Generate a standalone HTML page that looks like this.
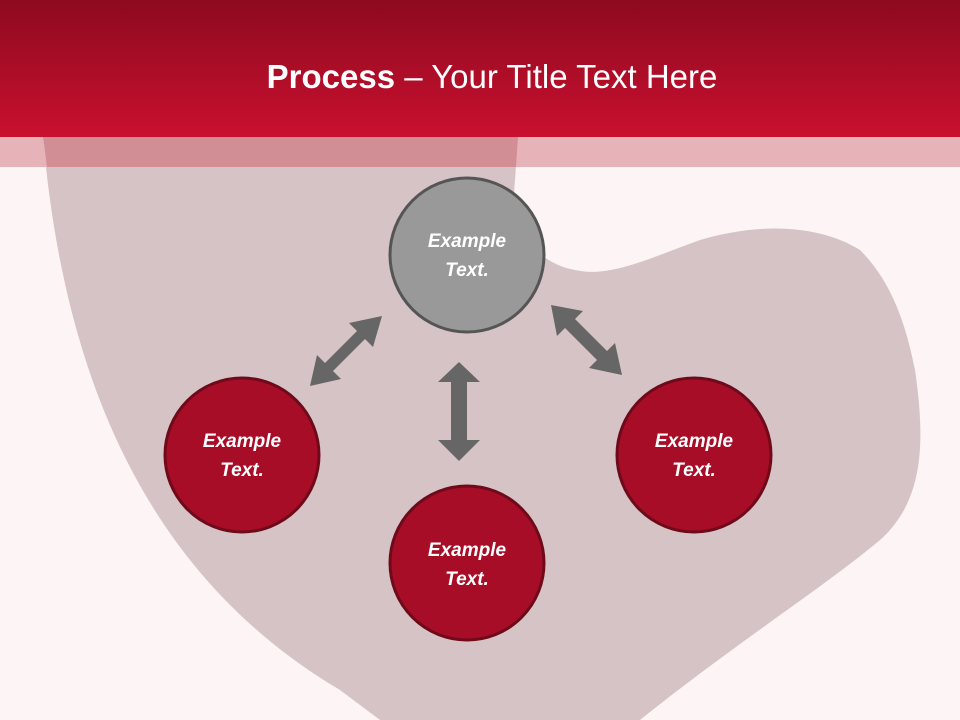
<!DOCTYPE html>
<html><head><meta charset="utf-8"><style>
body{margin:0;width:960px;height:720px;overflow:hidden;background:#fcf4f5}
svg{display:block}
text{font-family:"Liberation Sans",sans-serif}
</style></head><body>
<svg width="960" height="720" viewBox="0 0 960 720" xmlns="http://www.w3.org/2000/svg">
<defs>
<linearGradient id="hg" x1="0" y1="0" x2="0" y2="1">
<stop offset="0" stop-color="#8d0a1f"/><stop offset="1" stop-color="#c9102f"/>
</linearGradient>
</defs>
<rect width="960" height="720" fill="#fcf4f5"/>
<path d="M43,137 C60,330 120,560 340,690 L380,720 L640,720 C740,640 820,590 880,540 C925,500 925,440 915,370 C905,320 890,280 860,250 C820,225 760,222 700,240 C650,258 610,278 575,270 C530,262 510,220 515,180 L518,137 Z" fill="#d6c3c6"/>
<rect x="0" y="137" width="960" height="30" fill="#e6b4b8"/>
<path d="M43,137 C45,150 46,160 47,167 L516,167 L518,137 Z" fill="#d18f95"/>
<rect x="0" y="0" width="960" height="137" fill="url(#hg)"/>
<text x="492" y="88" text-anchor="middle" font-size="33" fill="#fff"><tspan font-weight="bold">Process</tspan> – Your Title Text Here</text>
<g fill="#666">
<polygon points="382,316 349,323 357,331 325,363 317,355 310,386 341,379 333,371 365,339 373,347"/>
<polygon points="551,305 557,336 565,328 597,360 589,368 622,375 615,343 607,351 575,319 583,311"/>
<polygon points="459,362 438,382 451,382 451,440 438,440 459,461 480,440 467,440 467,382 480,382"/>
</g>
<g stroke-width="3">
<circle cx="467" cy="255" r="77" fill="#999" stroke="#555"/>
<circle cx="242" cy="455" r="77" fill="#a80d27" stroke="#6f0a1a"/>
<circle cx="694" cy="455" r="77" fill="#a80d27" stroke="#6f0a1a"/>
<circle cx="467" cy="563" r="77" fill="#a80d27" stroke="#6f0a1a"/>
</g>
<g font-size="19" font-style="italic" font-weight="bold" fill="#fff" text-anchor="middle">
<text x="467" y="247">Example</text><text x="467" y="276">Text.</text>
<text x="242" y="447">Example</text><text x="242" y="476">Text.</text>
<text x="694" y="447">Example</text><text x="694" y="476">Text.</text>
<text x="467" y="556">Example</text><text x="467" y="585">Text.</text>
</g>
</svg>
</body></html>
